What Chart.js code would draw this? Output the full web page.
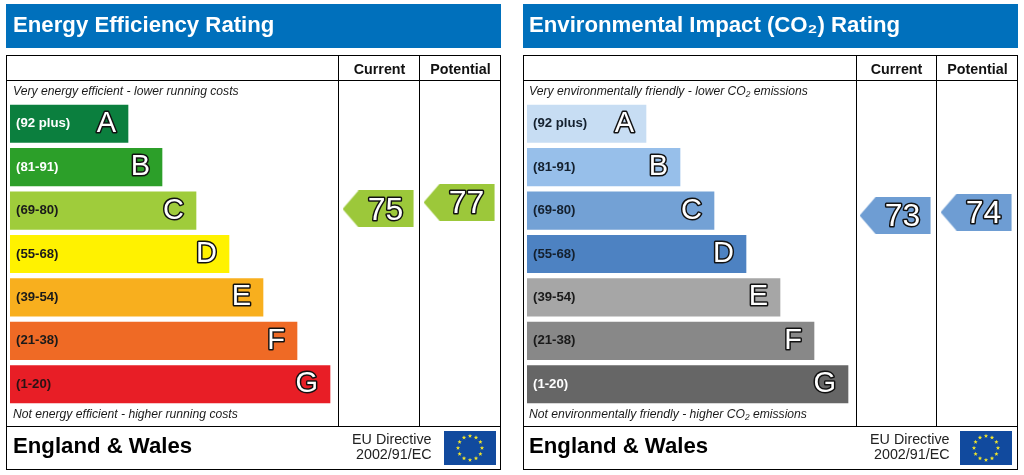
<!DOCTYPE html>
<html><head><meta charset="utf-8">
<style>
html,body{margin:0;padding:0;background:#fff;width:1024px;height:475px;overflow:hidden}
canvas{position:absolute;top:0}
#energy{left:0}#env{left:517px}
</style>
<script src="https://cdn.jsdelivr.net/npm/chart.js@4/dist/chart.umd.min.js"></script>
</head><body>
<canvas id="energy" width="507" height="475"></canvas>
<canvas id="env" width="507" height="475"></canvas>
<script>
const bandRanges = ['(92 plus)','(81-91)','(69-80)','(55-68)','(39-54)','(21-38)','(1-20)'];
const bandLetters = ['A','B','C','D','E','F','G'];
const columnNames = ['Current','Potential'];

const energyBarLengths = [118,152,186,219,253,287,320];
const energyColors = ['#0B7F3E','#2C9F29','#9FCC3B','#FFF200','#F8AF1E','#EF6A25','#E81E26'];
const energyLabelColors = ['#ffffff','#ffffff','#1a1a1a','#1a1a1a','#1a1a1a','#1a1a1a','#2a1214'];
const energyRatings = [75,77];

const envBarLengths = [119,153,187,219,253,287,321];
const envColors = ['#C7DDF3','#97BFEA','#73A1D5','#4D82C2','#A6A6A6','#888888','#666666'];
const envLabelColors = ['#14202e','#14202e','#14202e','#14202e','#1a1a1a','#1a1a1a','#ffffff'];
const envRatings = [73,74];

const FONT = '"Liberation Sans", Arial, sans-serif';

function arrowImage(color){
  const c = document.createElement('canvas');
  c.width = 74; c.height = 37;
  const g = c.getContext('2d');
  g.fillStyle = color;
  g.beginPath();
  g.moveTo(0,18.5); g.lineTo(16,0); g.lineTo(71,0); g.lineTo(71,37); g.lineTo(16,37);
  g.closePath(); g.fill();
  return c;
}

function outlined(ctx,text,x,y,size,lw){
  ctx.font = size+'px '+FONT;
  ctx.textBaseline = 'middle';
  ctx.lineJoin = 'round';
  ctx.lineWidth = lw;
  ctx.strokeStyle = '#111';
  ctx.fillStyle = '#fff';
  ctx.strokeText(text,x,y);
  ctx.fillText(text,x,y);
}

function star(ctx,cx,cy,r){
  ctx.beginPath();
  for(let i=0;i<10;i++){
    const a=-Math.PI/2+i*Math.PI/5, q=i%2?r*0.42:r;
    ctx.lineTo(cx+q*Math.cos(a),cy+q*Math.sin(a));
  }
  ctx.closePath();ctx.fill();
}

function panel(id,o){
  new Chart(document.getElementById(id),{
    data:{
      labels:bandRanges,
      datasets:[
        {type:'bar',indexAxis:'y',xAxisID:'x',yAxisID:'y',data:o.lengths,grouped:false,
         backgroundColor:o.colors,borderWidth:0,barThickness:37.5,order:2},
        {type:'scatter',xAxisID:'xc',yAxisID:'yr',
         data:o.ratings.map((r,i)=>({x:i+1,y:r})),
         pointStyle:arrowImage(o.arrow),pointRadius:18,clip:false,order:1}
      ]
    },
    options:{
      responsive:false,animation:false,devicePixelRatio:1,
      layout:{autoPadding:false,padding:{left:10,right:6,top:0,bottom:69}},
      plugins:{legend:{display:false},tooltip:{enabled:false}},
      events:[],
      scales:{
        x:{type:'linear',axis:'x',display:false,min:0,max:491},
        y:{type:'category',axis:'y',offset:true,position:'left',
           grid:{display:false,drawTicks:false},border:{display:false},
           afterFit:s=>{s.width=0;},
           ticks:{mirror:true,padding:6,z:1,autoSkip:false,
             color:c=>o.labelColors[c.index],
             font:{family:FONT,weight:'bold',size:13.2}}},
        xc:{type:'linear',axis:'x',position:'top',min:-3.562,max:2.4997,
            grid:{display:false,drawTicks:false},border:{display:false},
            afterBuildTicks:s=>{s.ticks=[{value:1},{value:2}];},
            afterFit:s=>{s.height=102;s.paddingLeft=0;s.paddingRight=0;},
            ticks:{autoSkip:false,maxRotation:0,padding:23,color:'#111',
              callback:v=>columnNames[v-1],
              font:{family:FONT,weight:'bold',size:14.3}}},
        yr:{type:'linear',axis:'y',display:false,min:15.3,max:107.4}
      }
    },
    plugins:[{
      id:'frame',
      beforeDatasetsDraw(chart){
        const ctx=chart.ctx;
        ctx.save();
        ctx.fillStyle='#0070BC';
        ctx.fillRect(6,4,495,44);
        ctx.fillStyle='#fff';
        ctx.font='bold 22.2px '+FONT;
        ctx.textBaseline='middle';ctx.textAlign='left';
        ctx.fillText(o.title,o.titleX,25.5);
        ctx.strokeStyle='#000';ctx.lineWidth=1;
        ctx.strokeRect(6.5,55.5,494,414);
        ctx.beginPath();
        ctx.moveTo(6.5,80.5);ctx.lineTo(500.5,80.5);
        ctx.moveTo(6.5,426.5);ctx.lineTo(500.5,426.5);
        o.columns.forEach(x=>{ctx.moveTo(x+.5,55.5);ctx.lineTo(x+.5,426.5);});
        ctx.stroke();
        ctx.fillStyle='#1a1a1a';
        ctx.font='italic 12.15px '+FONT;
        ctx.fillText(o.top,o.titleX,91.5);
        ctx.fillText(o.bottom,o.titleX,414.5);
        ctx.fillStyle='#000';
        ctx.font='bold 22.2px '+FONT;
        ctx.fillText('England & Wales',o.titleX,447);
        ctx.font='14.3px '+FONT;ctx.fillStyle='#222';ctx.textAlign='right';
        ctx.fillText('EU Directive',o.euX,440.5);
        ctx.fillText('2002/91/EC',o.euX,455.5);
        ctx.fillStyle='#114A9E';
        ctx.fillRect(o.flagX,431,52,34);
        ctx.fillStyle='#F2E62B';
        for(let i=0;i<12;i++){
          const a=i*Math.PI/6;
          star(ctx,o.flagX+26+12*Math.sin(a),448-12*Math.cos(a),2.3);
        }
        ctx.restore();
      },
      afterDatasetsDraw(chart){
        const ctx=chart.ctx;
        ctx.save();
        ctx.textAlign='right';
        chart.getDatasetMeta(0).data.forEach((el,i)=>{
          outlined(ctx,bandLetters[i],el.x-12,el.y,29,3);
        });
        ctx.textAlign='center';
        chart.getDatasetMeta(1).data.forEach((el,i)=>{
          outlined(ctx,String(o.ratings[i]),el.x+6,el.y+2,32,3);
        });
        ctx.restore();
      }
    }]
  });
}

panel('energy',{title:'Energy Efficiency Rating',top:'Very energy efficient - lower running costs',
  bottom:'Not energy efficient - higher running costs',lengths:energyBarLengths,colors:energyColors,
  labelColors:energyLabelColors,ratings:energyRatings,arrow:'#9CC83A',columns:[338,419],titleX:13,flagX:444,euX:431.5});
panel('env',{title:'Environmental Impact (CO\u2082) Rating',top:'Very environmentally friendly - lower CO\u2082 emissions',
  bottom:'Not environmentally friendly - higher CO\u2082 emissions',lengths:envBarLengths,colors:envColors,
  labelColors:envLabelColors,ratings:envRatings,arrow:'#6E9DD3',columns:[339,419],titleX:12,flagX:443,euX:432.5});
</script>
</body></html>
